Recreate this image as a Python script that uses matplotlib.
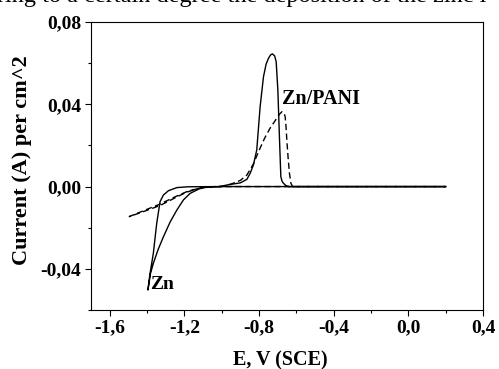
import matplotlib
matplotlib.use("Agg")
import matplotlib.pyplot as plt
from matplotlib.ticker import MultipleLocator, FuncFormatter

plt.rcParams["font.family"] = ["Liberation Serif", "DejaVu Serif"]

# Zn electrode (solid): sweep from 0.2 V to -1.4 V and back
zn_E = [0.2, -0.5, -1.0, -1.05, -1.08, -1.12, -1.169, -1.205, -1.24, -1.276, -1.312,
        -1.34, -1.366, -1.382, -1.395,
        -1.385, -1.366, -1.348, -1.33, -1.312, -1.285, -1.24, -1.18, -1.0,
        -0.97, -0.9, -0.865, -0.847, -0.83, -0.812, -0.794, -0.776, -0.762, -0.749,
        -0.738, -0.728, -0.716, -0.708, -0.699, -0.69, -0.683, -0.676, -0.669, -0.655, -0.64, 0.2]
zn_I = [0.0, 0.0, 0.0, -0.0001, -0.0003, -0.0011, -0.0033, -0.0065, -0.0114, -0.0172, -0.0244,
        -0.0305, -0.0373, -0.0425, -0.0503,
        -0.0430, -0.0324, -0.0179, -0.0073, -0.0041, -0.0020, -0.0005, -0.0001, 0.0,
        0.0008, 0.0018, 0.0035, 0.0065, 0.0105, 0.0178, 0.0388, 0.0534, 0.0595, 0.0624,
        0.0640, 0.0645, 0.0635, 0.0607, 0.0469, 0.0226, 0.0048, 0.0025, 0.0016, 0.0004, 0.0, 0.0]

# Zn/PANI electrode (dashed)
pani_E = [0.2, -0.5, -1.0, -1.05, -1.12, -1.19, -1.25, -1.33, -1.42, -1.495,
          -1.42, -1.33, -1.25, -1.18, -1.1, -1.0, -0.95, -0.9, -0.865, -0.83, -0.8,
          -0.77, -0.74, -0.71, -0.69, -0.677, -0.666, -0.66, -0.655, -0.651, -0.644,
          -0.637, -0.629, -0.62, 0.2]
pani_I = [0.0, 0.0, 0.0, -0.0001, -0.0008, -0.0028, -0.0055, -0.0092, -0.0122, -0.0146,
          -0.0118, -0.0085, -0.005, -0.0022, -0.0004, 0.0002, 0.0012, 0.003, 0.0056, 0.011, 0.0175,
          0.0235, 0.0285, 0.0325, 0.0352, 0.0364, 0.0358, 0.034, 0.029, 0.0226, 0.014,
          0.0065, 0.0016, 0.0, 0.0]

fig = plt.figure(figsize=(4.99, 3.69), dpi=100)
ax = fig.add_axes([91 / 499, 59 / 369, 392 / 499, 288 / 369])

ax.plot(zn_E, zn_I, color="black", linewidth=1.0)
ax.plot(pani_E, pani_I, color="black", linewidth=1.0, linestyle=(0, (4.5, 2.5)))

ax.set_xlim(-1.7, 0.4)
ax.set_ylim(-0.06, 0.08)
ax.xaxis.set_major_locator(MultipleLocator(0.4))
ax.xaxis.set_minor_locator(MultipleLocator(0.2))
ax.yaxis.set_major_locator(MultipleLocator(0.04))
ax.yaxis.set_minor_locator(MultipleLocator(0.02))

comma1 = FuncFormatter(lambda v, p: f"{v:.1f}".replace(".", ",").replace("-0,0", "0,0"))
comma2 = FuncFormatter(lambda v, p: f"{v:.2f}".replace(".", ",").replace("-0,00", "0,00"))
ax.xaxis.set_major_formatter(comma1)
ax.yaxis.set_major_formatter(comma2)

ax.tick_params(which="major", direction="out", length=4, width=0.8, labelsize=14, pad=3)
ax.tick_params(which="minor", direction="out", length=2.5, width=0.8)
for lab in ax.get_xticklabels() + ax.get_yticklabels():
    lab.set_fontweight("bold")
for s in ax.spines.values():
    s.set_linewidth(0.8)

ax.set_xlabel("E, V (SCE)", fontsize=14.5, fontweight="bold")
ax.xaxis.set_label_coords((280 - 91) / 392, -0.139)
ax.set_ylabel("Current (A) per cm^2", fontsize=16, fontweight="bold")
ax.yaxis.set_label_coords(-0.15, 0.521)

ax.text(-0.675, 0.0375, "Zn/PANI", fontsize=14.5, fontweight="bold", ha="left", va="bottom")
ax.text(-1.385, -0.0475, "Zn", fontsize=14, fontweight="bold", ha="left", va="center")

# clipped line of running text above the chart
fig.text(-3 / 499, 1 - 2 / 369, "ring to a certain degree the deposition of the zinc i",
         fontsize=17.5, ha="left", va="baseline")

fig.savefig("out.png", dpi=100)
